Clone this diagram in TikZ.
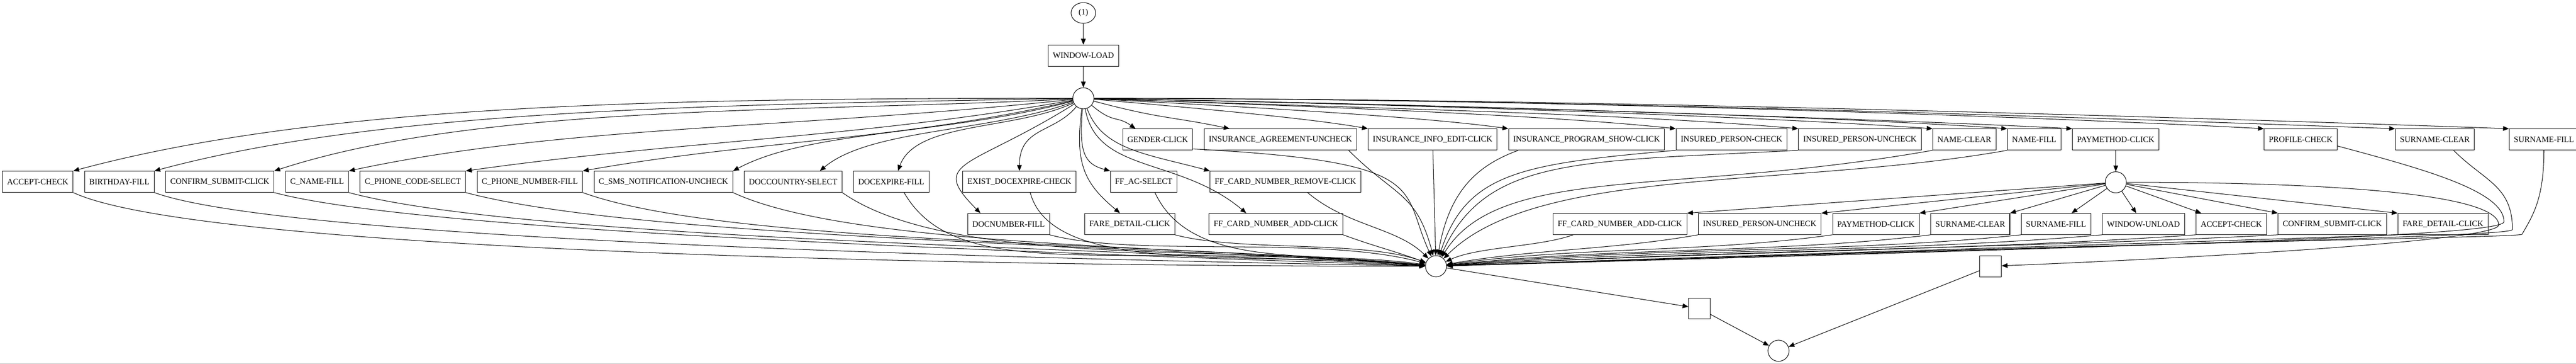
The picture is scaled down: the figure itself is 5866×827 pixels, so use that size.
\documentclass[tikz,border=0pt]{standalone}
\usepackage{fontspec}
\setmainfont{Liberation Serif}
\usetikzlibrary{arrows.meta,chains,positioning,shapes.geometric}
\tikzset{
    event node/.style = {
        draw,
        rectangle,
        minimum width=5.4pt,
        minimum height=3.6pt,
        inner xsep=0.8pt,
        inner ysep=0.4pt,
        font=\fontsize{1.4}{1.6}\selectfont,
        },
    place node/.style = {
        draw,
        circle,
        minimum size=3.6pt,
        inner sep=0pt,
        },
    silent node/.style = {
        draw,
        minimum width=3.675pt,
        minimum height=3.6pt,
        inner sep=0pt,
        },
    start node/.style = {
        draw,
        ellipse,
        minimum width=4.2pt,
        minimum height=3.525pt,
        inner sep=0pt,
        font=\fontsize{1.4}{1.6}\selectfont,
        },
    flow edge/.style = {
        -{Triangle[length=1pt, width=0.8pt]},
        },
}
\begin{document}
\begin{tikzpicture}[x=0.075pt, y=0.075pt, line width=0.09pt]
    \useasboundingbox (0,0) rectangle (5866,-827);
    \draw [gray!50] (0,-826) -- (5866,-826);

    \node [start node] (init) at (2467,-29.5) {(1)};
    \node [event node, below=3.6pt of init] (wload) {WINDOW-LOAD};
    \node [place node, below=3.6pt of wload] (p1) {};

    % first row
    \begin{scope}[start chain=going right, node distance=1.875pt]
        \node [event node, on chain, anchor=west] (gender) at (2556,-317) {GENDER-CLICK};
        \node [event node, on chain] (insagr) {INSURANCE\_AGREEMENT-UNCHECK};
        \node [event node, on chain] (insedit) {INSURANCE\_INFO\_EDIT-CLICK};
        \node [event node, on chain] (insprog) {INSURANCE\_PROGRAM\_SHOW-CLICK};
        \node [event node, on chain] (ipchk) {INSURED\_PERSON-CHECK};
        \node [event node, on chain] (ipunchk) {INSURED\_PERSON-UNCHECK};
        \node [event node, on chain] (nclear) {NAME-CLEAR};
        \node [event node, on chain] (nfill) {NAME-FILL};
        \node [event node, on chain] (pay) {PAYMETHOD-CLICK};
        \node [event node, on chain, xshift=15.975pt] (profile) {PROFILE-CHECK};
        \node [event node, on chain, xshift=7.95pt] (sclear) {SURNAME-CLEAR};
        \node [event node, on chain, xshift=3.975pt] (sfill) {SURNAME-FILL};
    \end{scope}

    % second row
    \begin{scope}[start chain=going right, node distance=1.875pt]
        \node [event node, on chain, anchor=west] (acc) at (5,-413) {ACCEPT-CHECK};
        \node [event node, on chain] (bday) {BIRTHDAY-FILL};
        \node [event node, on chain] (csub) {CONFIRM\_SUBMIT-CLICK};
        \node [event node, on chain] (cname) {C\_NAME-FILL};
        \node [event node, on chain] (cpcode) {C\_PHONE\_CODE-SELECT};
        \node [event node, on chain] (cpnum) {C\_PHONE\_NUMBER-FILL};
        \node [event node, on chain] (csms) {C\_SMS\_NOTIFICATION-UNCHECK};
        \node [event node, on chain] (dcountry) {DOCCOUNTRY-SELECT};
        \node [event node, on chain] (dexpire) {DOCEXPIRE-FILL};
        \node [event node, on chain, xshift=3.825pt] (exdexp) {EXIST\_DOCEXPIRE-CHECK};
        \node [event node, on chain, xshift=3.9pt] (ffac) {FF\_AC-SELECT};
        \node [event node, on chain, xshift=3.675pt] (ffrem) {FF\_CARD\_NUMBER\_REMOVE-CLICK};
    \end{scope}
    \node [place node, below=3.6pt of pay] (p2) {};

    % third row
    \begin{scope}[start chain=going right, node distance=1.875pt]
        \node [event node, on chain, anchor=west] (dnum) at (2203,-509) {DOCNUMBER-FILL};
        \node [event node, on chain, xshift=4.05pt] (fare) {FARE\_DETAIL-CLICK};
        \node [event node, on chain, xshift=3.9pt] (ffadd) {FF\_CARD\_NUMBER\_ADD-CLICK};
    \end{scope}
    \begin{scope}[start chain=going right, node distance=1.875pt]
        \node [event node, on chain, anchor=west] (ffadd2) at (3536,-509) {FF\_CARD\_NUMBER\_ADD-CLICK};
        \node [event node, on chain] (ipunchk2) {INSURED\_PERSON-UNCHECK};
        \node [event node, on chain] (pay2) {PAYMETHOD-CLICK};
        \node [event node, on chain] (sclear2) {SURNAME-CLEAR};
        \node [event node, on chain] (sfill2) {SURNAME-FILL};
        \node [event node, on chain] (wunload) {WINDOW-UNLOAD};
        \node [event node, on chain] (acc2) {ACCEPT-CHECK};
        \node [event node, on chain] (csub2) {CONFIRM\_SUBMIT-CLICK};
        \node [event node, on chain] (fare2) {FARE\_DETAIL-CLICK};
    \end{scope}

    \node [place node] (p3) at (3270,-605) {};
    \node [silent node] (t1) at (3870,-701) {};
    \node [silent node] (t2) at (4533,-605) {};
    \node [place node] (pend) at (4050,-797) {};

    \draw [flow edge] (init) -- (wload);
    \draw [flow edge] (wload) -- (p1);

    % out of the first place, to the left
    \draw [flow edge] (p1) to [out=180, in=15, out distance=67.5pt, in distance=45pt] (acc.north east);
    \draw [flow edge] (p1) to [out=181, in=15, out distance=60pt, in distance=41.2pt] (bday.north east);
    \draw [flow edge] (p1) to [out=183, in=18, out distance=45pt, in distance=37.5pt] (csub.north east);
    \draw [flow edge] (p1) to [out=186, in=12, out distance=48.8pt, in distance=37.5pt] (cname.north east);
    \draw [flow edge] (p1) to [out=190, in=8, out distance=37.5pt, in distance=37.5pt] (cpcode.north east);
    \draw [flow edge] (p1) to [out=193, in=10, out distance=30pt, in distance=30pt] (cpnum.north east);
    \draw [flow edge] (p1) to [out=195, in=28, out distance=22.5pt, in distance=15pt] (csms.north east);
    \draw [flow edge] (p1) to [out=200, in=40, out distance=15pt, in distance=11.2pt] (dcountry.22);
    \draw [flow edge] (p1) to [out=205, in=70, out distance=11.2pt, in distance=9pt] (dexpire.58);
    \draw [flow edge] (p1) to [out=230, in=90, out distance=6pt, in distance=7.5pt] (exdexp.north);
    \draw [flow edge] (p1) to [out=212, in=135, out distance=21pt, in distance=12.75pt] (dnum.159);
    \draw [flow edge] (p1) to [out=262, in=140, out distance=9.8pt, in distance=7.5pt] (fare.132);
    \draw [flow edge] (p1) to [out=265, in=165, out distance=7.5pt, in distance=4.5pt] (ffac.north west);
    \draw [flow edge] (p1) to [out=280, in=140, out distance=11.2pt, in distance=15pt] (ffadd.160);
    \draw [flow edge] (p1) to [out=290, in=165, out distance=7.5pt, in distance=11.2pt] (ffrem.north west);
    % out of the first place, to the right
    \draw [flow edge] (p1) to [out=-40, in=145, out distance=5pt, in distance=4pt] (gender.154);
    \draw [flow edge] (p1) to [out=-15, in=168, out distance=12pt, in distance=10pt] (insagr.168);
    \draw [flow edge] (p1) to [out=-5, in=170, out distance=15pt, in distance=11pt] (insedit.north west);
    \draw [flow edge] (p1) to [out=-3, in=172, out distance=25pt, in distance=15pt] (insprog.north west);
    \draw [flow edge] (p1) to [out=-2, in=174, out distance=37.5pt, in distance=22.5pt] (ipchk.north west);
    \draw [flow edge] (p1) to [out=-2, in=175, out distance=45pt, in distance=30pt] (ipunchk.north west);
    \draw [flow edge] (p1) to [out=-1, in=176, out distance=52.5pt, in distance=30pt] (nclear.north west);
    \draw [flow edge] (p1) to [out=-1, in=176, out distance=60pt, in distance=30pt] (nfill.north west);
    \draw [flow edge] (p1) to [out=-1, in=177, out distance=60pt, in distance=30pt] (pay.north west);
    \draw [flow edge] (p1) to [out=0, in=177, out distance=75pt, in distance=37.5pt] (profile.north west);
    \draw [flow edge] (p1) to [out=0, in=178, out distance=82.5pt, in distance=37.5pt] (sclear.north west);
    \draw [flow edge] (p1) to [out=0, in=178, out distance=90pt, in distance=37.5pt] (sfill.north west);

    % into the merge place, from the left
    \draw [flow edge] (acc.south east) to [out=-25, in=180, out distance=22.5pt, in distance=90pt] (p3);
    \draw [flow edge] (bday.south east) to [out=-20, in=179, out distance=22.5pt, in distance=82.5pt] (p3);
    \draw [flow edge] (csub.south east) to [out=-15, in=178, out distance=26.25pt, in distance=67.5pt] (p3);
    \draw [flow edge] (cname.south east) to [out=-15, in=177, out distance=30pt, in distance=60pt] (p3);
    \draw [flow edge] (cpcode.south east) to [out=-15, in=176, out distance=30pt, in distance=52.5pt] (p3);
    \draw [flow edge] (cpnum.south east) to [out=-20, in=175, out distance=26.25pt, in distance=45pt] (p3);
    \draw [flow edge] (csms.south east) to [out=-25, in=175, out distance=22.5pt, in distance=37.5pt] (p3);
    \draw [flow edge] (dcountry.south east) to [out=-35, in=174, out distance=22.5pt, in distance=33.75pt] (p3);
    \draw [flow edge] (dexpire.-40) to [out=-60, in=175, out distance=18.75pt, in distance=52.5pt] (p3);
    \draw [flow edge] (exdexp.-45) to [out=-75, in=175, out distance=15pt, in distance=30pt] (p3);
    \draw [flow edge] (dnum.south east) to [out=-15, in=165, out distance=15pt, in distance=18.8pt] (p3);
    \draw [flow edge] (fare.south east) to [out=-15, in=160, out distance=11.2pt, in distance=11.2pt] (p3);
    \draw [flow edge] (ffac.-44) to [out=-65, in=172, out distance=15pt, in distance=18.75pt] (p3);
    \draw [flow edge] (ffrem.-26) to [out=-40, in=135, out distance=9pt, in distance=7.5pt] (p3);
    \draw [flow edge] (ffadd.south east) to [out=-20, in=160, out distance=6pt, in distance=6pt] (p3);
    \draw [flow edge] (gender.-15) to [out=-3, in=115, out distance=41.25pt, in distance=12.75pt] (p3);
    \draw [flow edge] (insagr.-9) to [out=-45, in=105, out distance=11.25pt, in distance=11.25pt] (p3);
    \draw [flow edge] (insedit) -- (p3);
    % into the merge place, from the right
    \draw [flow edge] (insprog.189) to [out=200, in=80, out distance=7.5pt, in distance=11.2pt] (p3);
    \draw [flow edge] (ipchk.south west) to [out=185, in=72, out distance=26.2pt, in distance=15pt] (p3);
    \draw [flow edge] (ipunchk.south west) to [out=183, in=65, out distance=37.5pt, in distance=18.8pt] (p3);
    \draw [flow edge] (nclear.south west) to [out=190, in=58, out distance=45pt, in distance=18.8pt] (p3);
    \draw [flow edge] (nfill.south west) to [out=190, in=45, out distance=37.5pt, in distance=22.5pt] (p3);
    \draw [flow edge] (profile.-10) .. controls +(-15:200) and +(90:70) .. ++(379,-172) .. controls +(-90:30) and +(1800,50) .. (p3);
    \draw [flow edge] (sclear.-30) .. controls +(-45:100) and +(90:100) .. ++(134,-180) .. controls +(-90:15) and +(1800,55) .. (p3);
    \draw [flow edge] (sfill.south) .. controls +(-90:110) and +(60:50) .. ++(-50,-191) .. controls +(195:30) and +(1800,60) .. (p3);

    % the payment branch
    \draw [flow edge] (pay) -- (p2);
    \draw [flow edge] (p2) -- (ffadd2.north east);
    \draw [flow edge] (p2) -- (ipunchk2.north east);
    \draw [flow edge] (p2) -- (pay2.north east);
    \draw [flow edge] (p2) -- (sclear2.north east);
    \draw [flow edge] (p2) -- (sfill2);
    \draw [flow edge] (p2) -- (wunload);
    \draw [flow edge] (p2) -- (acc2);
    \draw [flow edge] (p2) -- (csub2.north west);
    \draw [flow edge] (p2) -- (fare2.north west);
    \draw [flow edge] (p2) .. controls +(0:500) and +(90:70) .. ++(872,-97) .. controls +(-90:35) and +(500,20) .. (t2);
    \draw [flow edge] (ffadd2.193) to [out=200, in=25, out distance=6pt, in distance=6pt] (p3);
    \draw [flow edge] (ipunchk2.south west) to [out=190, in=10, out distance=15pt, in distance=15pt] (p3);
    \draw [flow edge] (pay2.south west) to [out=188, in=8, out distance=22.5pt, in distance=22.5pt] (p3);
    \draw [flow edge] (sclear2.south west) to [out=187, in=6, out distance=26.2pt, in distance=30pt] (p3);
    \draw [flow edge] (sfill2.south west) to [out=186, in=5, out distance=30pt, in distance=37.5pt] (p3);
    \draw [flow edge] (wunload.south west) to [out=185, in=4, out distance=33.8pt, in distance=41.2pt] (p3);
    \draw [flow edge] (acc2.south west) to [out=184, in=3, out distance=37.5pt, in distance=45pt] (p3);
    \draw [flow edge] (csub2.south west) to [out=183, in=3, out distance=41.2pt, in distance=52.5pt] (p3);
    \draw [flow edge] (fare2.south west) to [out=182, in=2, out distance=45pt, in distance=60pt] (p3);

    % to the end
    \draw [flow edge] (p3) -- (t1);
    \draw [flow edge] (t1) -- (pend);
    \draw [flow edge] (t2) -- (pend);
\end{tikzpicture}
\end{document}
